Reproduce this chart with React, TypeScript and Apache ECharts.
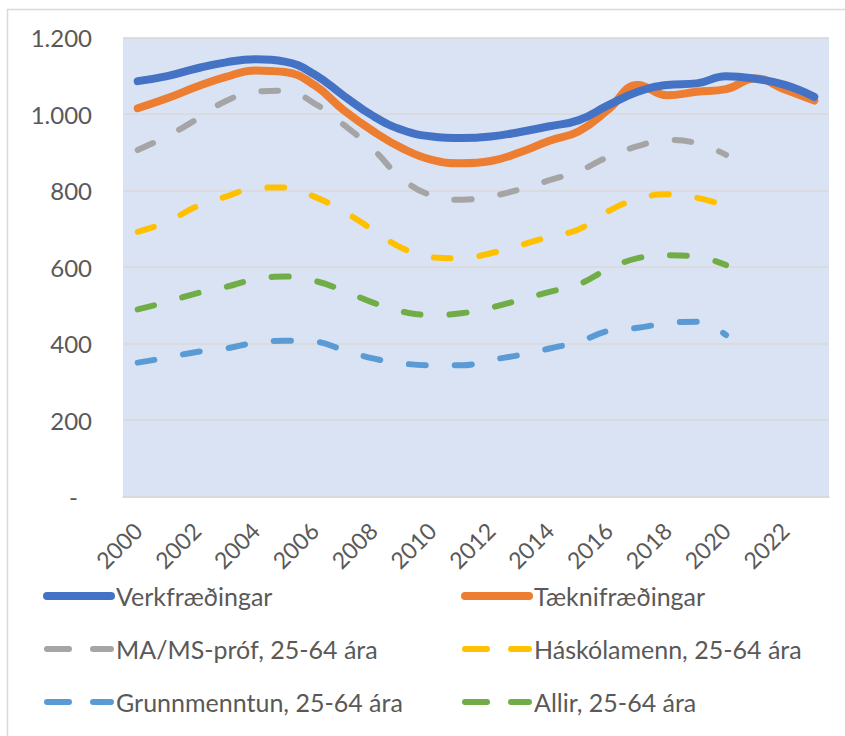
import React, { useEffect, useRef } from "react";
import * as echarts from "echarts";

const years = ["2000","2001","2002","2003","2004","2005","2006","2007","2008","2009","2010","2011","2012","2013","2014","2015","2016","2017","2018","2019","2020","2021","2022","2023"];

const verkfraedingar = [1086, 1099, 1119, 1135, 1143, 1137, 1104, 1048, 995, 958, 941, 937, 941, 953, 968, 984, 1023, 1058, 1076, 1080, 1099, 1092, 1076, 1045];
const taeknifraedingar = [1015, 1041, 1071, 1097, 1114, 1110, 1076, 1010, 955, 910, 880, 871, 877, 900, 930, 955, 1012, 1076, 1049, 1058, 1065, 1093, 1064, 1035];
const maMs = [906, 942, 986, 1034, 1058, 1061, 1028, 972, 908, 830, 787, 776, 785, 803, 827, 851, 888, 916, 932, 924, 893, null, null, null];
const haskolamenn = [692, 718, 758, 784, 806, 808, 784, 745, 697, 649, 625, 623, 636, 657, 679, 699, 746, 778, 790, 781, 760, null, null, null];
const grunnmenntun = [350, 363, 378, 387, 402, 407, 405, 383, 361, 348, 343, 343, 357, 370, 387, 405, 433, 441, 453, 457, 422, null, null, null];
const allir = [489, 509, 531, 548, 568, 575, 564, 538, 507, 483, 475, 479, 494, 514, 535, 555, 595, 623, 631, 627, 605, null, null, null];

const names = [
  "Verkfræðingar",
  "Tæknifræðingar",
  "MA/MS-próf, 25-64 ára",
  "Háskólamenn, 25-64 ára",
  "Grunnmenntun, 25-64 ára",
  "Allir, 25-64 ára",
];
const colors = ["#4472C4", "#ED7D31", "#A5A5A5", "#FFC000", "#5B9BD5", "#70AD47"];

const FONT = "Lato";
const TEXT = "#595959";

export default function App() {
  const ref = useRef<HTMLDivElement>(null);
  useEffect(() => {
    if (!ref.current) return;
    const chart = echarts.init(ref.current, null, { renderer: "svg" });
    const seriesData = [verkfraedingar, taeknifraedingar, maMs, haskolamenn, grunnmenntun, allir];
    const series = seriesData.map((d, i) => {
      const solid = i < 2;
      return {
        name: names[i],
        type: "line",
        data: d,
        smooth: 0.45,
        symbol: "none",
        connectNulls: false,
        z: 10 - i,
        lineStyle: solid
          ? { color: colors[i], width: 8, cap: "round", join: "round" }
          : { color: colors[i], width: 6, type: [17, 29], cap: "round", join: "round" },
        itemStyle: { color: colors[i] },
      };
    });
    const legendItem = (i: number) => ({
      name: names[i],
      lineStyle:
        i < 2
          ? { width: 8, type: "solid", cap: "round", color: colors[i] }
          : { width: 6, type: [22, 24], cap: "round", color: colors[i] },
    });
    const legendCommon = {
      orient: "vertical",
      top: 583.5,
      padding: 0,
      itemWidth: 64,
      itemHeight: 10,
      itemGap: 28,
      itemStyle: { opacity: 0 },
      lineStyle: { width: "inherit", cap: "round" },
      textStyle: { fontFamily: FONT, fontSize: 25, color: TEXT },
    };
    chart.setOption({
      animation: false,
      textStyle: { fontFamily: FONT },
      graphic: [
        {
          type: "rect",
          shape: { x: 7.5, y: 9.5, width: 900, height: 800 },
          style: { fill: "none", stroke: "#D9D9D9", lineWidth: 1.5 },
          silent: true,
        },
      ],
      grid: {
        left: 123,
        top: 37.5,
        right: 16,
        bottom: 239.5,
        show: true,
        backgroundColor: "#DAE3F3",
        borderWidth: 0,
      },
      legend: [
        { ...legendCommon, left: 43, data: [legendItem(0), legendItem(2), legendItem(4)] },
        { ...legendCommon, left: 461, data: [legendItem(1), legendItem(3), legendItem(5)] },
      ],
      xAxis: {
        type: "category",
        data: years,
        boundaryGap: true,
        axisLine: { show: true, lineStyle: { color: "#D9D9D9", width: 1.5 } },
        axisTick: { show: false },
        axisLabel: {
          interval: 1,
          rotate: 45,
          margin: 30,
          fontFamily: FONT,
          fontSize: 23,
          color: TEXT,
        },
      },
      yAxis: {
        type: "value",
        min: 0,
        max: 1200,
        interval: 200,
        axisLine: { show: false },
        axisTick: { show: false },
        splitLine: { lineStyle: { color: "#D9D9D9", width: 1.5 } },
        axisLabel: {
          margin: 31,
          fontFamily: FONT,
          fontSize: 24,
          color: TEXT,
          formatter: (v: number) =>
            v === 0 ? "{z|-}" : v.toString().replace(/\B(?=(\d{3})+(?!\d))/g, "."),
          rich: { z: { padding: [0, 14, 0, 0], fontFamily: FONT, fontSize: 24, color: TEXT } },
        },
      },
      series,
    });
    return () => chart.dispose();
  }, []);
  return (
    <div
      ref={ref}
      style={{ position: "fixed", left: 0, top: 0, width: 845, height: 736, background: "#fff" }}
    />
  );
}
